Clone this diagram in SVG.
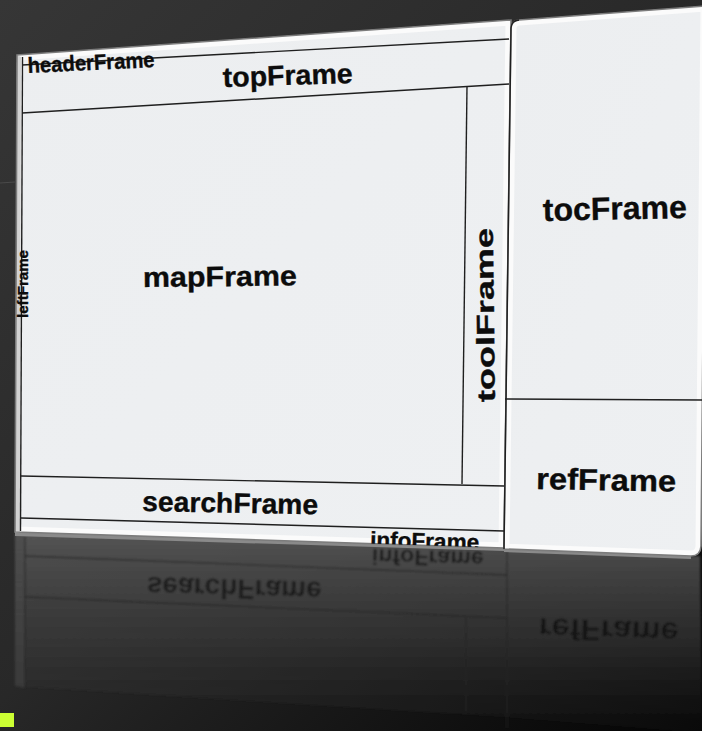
<svg xmlns="http://www.w3.org/2000/svg" width="702" height="731" viewBox="0 0 702 731">
  <defs>
    <linearGradient id="bg" x1="0" y1="0" x2="702" y2="731" gradientUnits="userSpaceOnUse">
      <stop offset="0" stop-color="#363636"/>
      <stop offset="0.5" stop-color="#282828"/>
      <stop offset="1" stop-color="#040404"/>
    </linearGradient>
    <linearGradient id="reflFill" x1="0" y1="535" x2="0" y2="725" gradientUnits="userSpaceOnUse">
      <stop offset="0" stop-color="#585858" stop-opacity="0.9"/>
      <stop offset="0.55" stop-color="#3e3e3e" stop-opacity="0.6"/>
      <stop offset="1" stop-color="#2c2c2c" stop-opacity="0.15"/>
    </linearGradient>
    <linearGradient id="faceL" x1="0" y1="0" x2="1" y2="1">
      <stop offset="0" stop-color="#eceef0"/>
      <stop offset="1" stop-color="#eef0f2"/>
    </linearGradient>
    <clipPath id="clipL">
      <polygon points="17,55 511,20 504,548 15,532"/>
    </clipPath>
    <clipPath id="clipR">
      <path d="M504,549 L511,28 Q511.5,20.5 519,20 L706,6 L701,546 Q700.5,556 691,556 Z"/>
    </clipPath>
    <filter id="soft" x="-5%" y="-5%" width="110%" height="110%">
      <feGaussianBlur stdDeviation="0.9"/>
    </filter>
  </defs>
  <style>
    .face{fill:url(#faceL)}
    .bevel{fill:none;stroke:#fbfbfb;stroke-width:11}
    .edge{fill:none;stroke:#7c7c7c;stroke-width:1.6}
    .rule{fill:none;stroke:#1f1f1f;stroke-width:1.4}
    .lbl{font-family:"Liberation Sans",Arial,Helvetica,sans-serif;font-weight:bold;fill:#0c0c0c;stroke:#0c0c0c;stroke-width:0.35}
    .ghost-rule{fill:none;stroke:#232323;stroke-width:1.3;opacity:0.8}
    .ghost{font-family:"Liberation Sans",Arial,Helvetica,sans-serif;font-weight:bold;fill:#151515;opacity:0.85}
  </style>

  <!-- backdrop -->
  <rect x="0" y="0" width="702" height="731" fill="url(#bg)"/>
  <line x1="0" y1="183" x2="15" y2="182" stroke="#4a4a4a" stroke-width="1"/>

  <!-- mirrored copy of the layout on the floor -->
  <g id="reflection" filter="url(#soft)">
    <polygon points="15,533 504,549 700,556 702,733 504,717 15,686" fill="url(#reflFill)"/>
    <polygon points="15,533 25,535 25,688 15,686" fill="#4c4c4c" opacity="0.45"/>
    <line class="ghost-rule" x1="25" y1="537" x2="25" y2="688"/>
    <line class="ghost-rule" x1="25" y1="556" x2="507" y2="575"/>
    <line class="ghost-rule" x1="25" y1="597" x2="507" y2="618"/>
    <line class="ghost-rule" x1="466" y1="618" x2="466" y2="712"/>
    <line class="ghost-rule" x1="507" y1="550" x2="507" y2="728"/>
    <text class="ghost" font-size="28" textLength="175" lengthAdjust="spacingAndGlyphs" transform="translate(147,577) rotate(1.6) scale(1,-1)">searchFrame</text>
    <text class="ghost" font-size="22" textLength="112" lengthAdjust="spacingAndGlyphs" transform="translate(372,549) rotate(1.5) scale(1,-1)">infoFrame</text>
    <text class="ghost" font-size="30" textLength="140" lengthAdjust="spacingAndGlyphs" transform="translate(539,618) rotate(2) scale(1,-1)">refFrame</text>
  </g>

  <!-- left board: header, top, left, map, tool, search and info frames -->
  <g id="boardLeft">
    <polygon class="face" points="17,55 511,20 504,548 15,532"/>
    <polygon class="bevel" points="17,55 511,20 504,548 15,532" clip-path="url(#clipL)"/>
    <polygon points="15,532 504,548 504,551 15,536" fill="#8a8a8a"/>
    <polygon points="15,533 20,533 21,57 17,55" fill="#d2d2d2"/>
    <polygon class="edge" points="17,55 511,20 504,548 15,532"/>
  </g>

  <!-- right board: toc and ref frames -->
  <g id="boardRight">
    <path class="face" d="M504,549 L511,28 Q511.5,20.5 519,20 L706,6 L701,546 Q700.5,556 691,556 Z"/>
    <path class="bevel" d="M504,549 L511,28 Q511.5,20.5 519,20 L706,6 L701,546 Q700.5,556 691,556 Z" clip-path="url(#clipR)"/>
    <path d="M504,549 L691,556 L691,559 L504,552 Z" fill="#8a8a8a"/>
    <path class="edge" d="M504,549 L511,28 Q511.5,20.5 519,20 L706,6 L701,546 Q700.5,556 691,556 Z"/>
  </g>

  <!-- frame borders -->
  <g id="connectors">
    <line class="rule" x1="22" y1="65" x2="509" y2="39"/>
    <line class="rule" x1="22" y1="113" x2="509" y2="84"/>
    <line class="rule" x1="22.5" y1="57" x2="20.5" y2="531"/>
    <line class="rule" x1="467" y1="86" x2="462" y2="484"/>
    <line class="rule" x1="21" y1="476" x2="504" y2="486"/>
    <line class="rule" x1="21" y1="518" x2="504" y2="531"/>
    <line class="rule" x1="505" y1="399" x2="702" y2="400"/>
    <path class="rule" d="M504,549 L511,28 Q511.5,20.5 519,20"/>
  </g>

  <g id="headerFrame">
    <text class="lbl" x="28" y="73" font-size="22" textLength="127" lengthAdjust="spacingAndGlyphs" transform="rotate(-2.7 28 73)">headerFrame</text>
  </g>
  <g id="topFrame">
    <text class="lbl" x="223" y="87" font-size="28" textLength="130" lengthAdjust="spacingAndGlyphs" transform="rotate(-1.8 223 87)">topFrame</text>
  </g>
  <g id="leftFrame" clip-path="url(#clipL)">
    <text class="lbl" x="0" y="0" font-size="15" textLength="68" lengthAdjust="spacingAndGlyphs" transform="translate(27.5,318) rotate(-90)">leftFrame</text>
  </g>
  <g id="mapFrame">
    <text class="lbl" x="143" y="287" font-size="28" textLength="154" lengthAdjust="spacingAndGlyphs" transform="rotate(-0.6 143 287)">mapFrame</text>
  </g>
  <g id="toolFrame">
    <text class="lbl" x="0" y="0" font-size="25" textLength="174" lengthAdjust="spacingAndGlyphs" transform="translate(495,402) rotate(-90.7)">toolFrame</text>
  </g>
  <g id="searchFrame">
    <text class="lbl" x="142" y="511" font-size="28" textLength="176" lengthAdjust="spacingAndGlyphs" transform="rotate(1.1 142 511)">searchFrame</text>
  </g>
  <g id="infoFrame" clip-path="url(#clipL)">
    <text class="lbl" x="370" y="547" font-size="22" textLength="109" lengthAdjust="spacingAndGlyphs" transform="rotate(1.5 370 547)">infoFrame</text>
  </g>
  <g id="tocFrame">
    <text class="lbl" x="543" y="221" font-size="32" textLength="144" lengthAdjust="spacingAndGlyphs" transform="rotate(-1.2 543 221)">tocFrame</text>
  </g>
  <g id="refFrame">
    <text class="lbl" x="536" y="489" font-size="30" textLength="140" lengthAdjust="spacingAndGlyphs" transform="rotate(1.1 536 489)">refFrame</text>
  </g>

  <!-- corner swatch -->
  <rect x="0" y="713" width="14" height="14" fill="#ccff33"/>
</svg>
